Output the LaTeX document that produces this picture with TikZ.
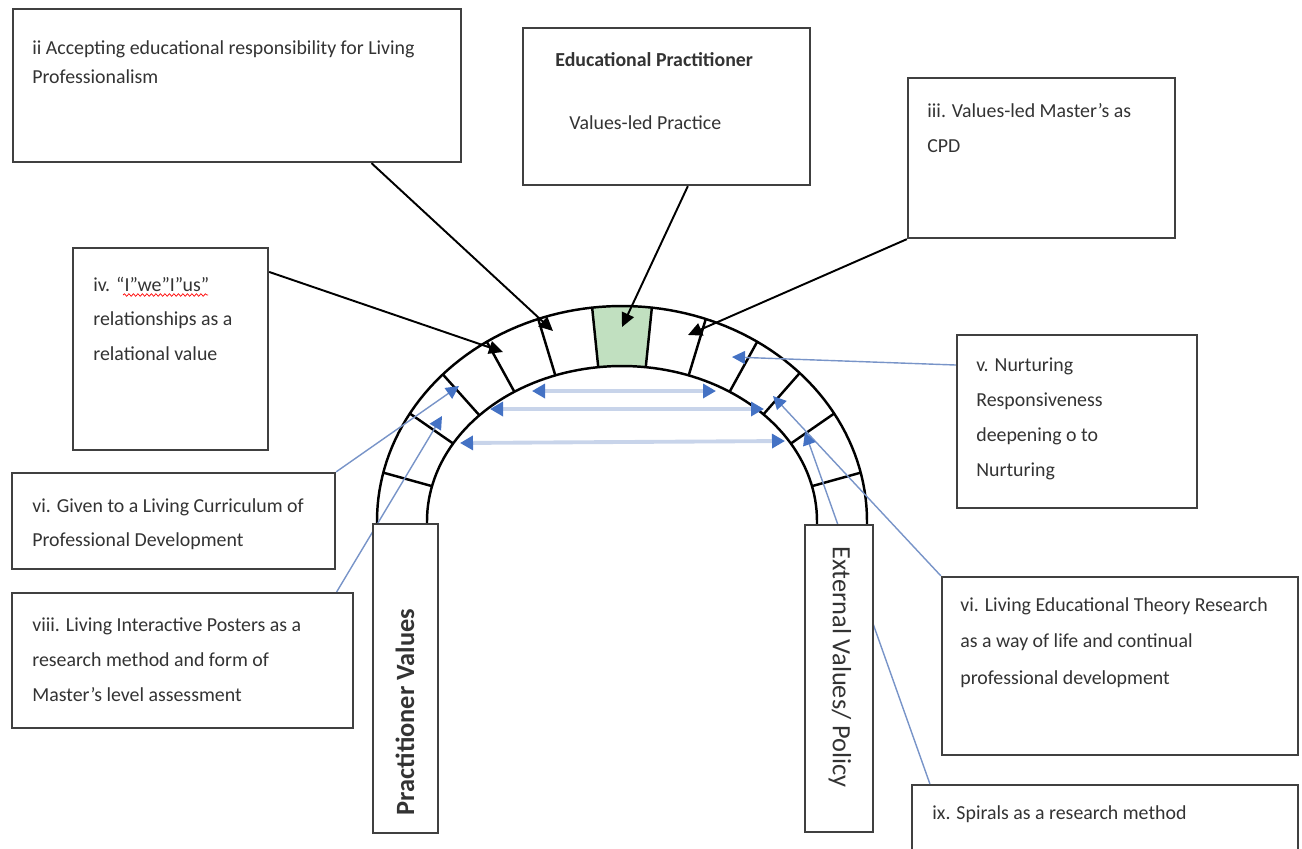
\documentclass[tikz,border=0pt]{standalone}
\usepackage{fontspec}
\setmainfont{Carlito}
\usetikzlibrary{arrows.meta,fit,decorations.pathmorphing}

\definecolor{keygreen}{RGB}{193,224,192}
\definecolor{headblue}{RGB}{68,114,196}
\definecolor{linkblue}{RGB}{120,148,200}
\definecolor{barblue}{RGB}{200,212,234}
\definecolor{boxgray}{RGB}{64,64,64}

\tikzset{
  infobox/.style={draw=boxgray, line width=1.3pt, inner sep=0pt},
  pillar/.style={draw=boxgray, line width=0.8pt, inner sep=0pt},
  txt/.style={anchor=north west, inner sep=0pt, align=left, text=black!80, font=\fontsize{11.3}{20}\selectfont},
  blk/.style={-{Triangle[length=2.8mm,width=2.6mm]}, line width=1.1pt},
  blu/.style={-{Triangle[length=2.6mm,width=2.6mm,color=headblue]}, draw=linkblue, line width=0.8pt},
  pairline/.style={{Triangle[length=2.6mm,width=2.8mm,color=headblue]}-{Triangle[length=2.6mm,width=2.8mm,color=headblue]}, draw=barblue, line width=2.2pt},
}

\begin{document}
\begin{tikzpicture}[x=0.2mm,y=-0.2mm]
    \clip (0,0) rectangle (1302,848);

    \node[infobox, fit={(13,9) (461,162)}] (ii) {};
    \node[infobox, fit={(523,28) (810,185)}] (ep) {};
    \node[infobox, fit={(908,78) (1175,238)}] (iii) {};
    \node[infobox, fit={(73,248) (268,450)}] (iv) {};
    \node[infobox, fit={(957,335) (1197,508)}] (v) {};
    \node[infobox, fit={(12,473) (335,569)}] (vi) {};
    \node[infobox, fit={(12,593) (353,728)}] (viii) {};
    \node[infobox, fit={(942,577) (1298,755)}] (let) {};
    \node[infobox, fit={(912,785) (1298,870)}] (ix) {};

    \node[txt, font=\fontsize{11.3}{16.5}\selectfont] (iitext) at (32,40) {ii Accepting educational responsibility for Living\\Professionalism};
    \node[txt] (eptext) at (555,52) {\textbf{Educational Practitioner}\\[16pt]\hspace{8pt}Values-led Practice};
    \node[txt] (iiitext) at (927,103) {iii. Values-led Master’s as\\CPD};
    \node[txt, font=\fontsize{11.3}{19.5}\selectfont] (ivtext) at (93,277) {iv. “I”we”I”us”\\relationships as a\\relational value};
    \node[txt] (vtext) at (976,357) {v. Nurturing\\Responsiveness\\deepening o to\\Nurturing};
    \node[txt, font=\fontsize{11.3}{19.5}\selectfont] (vitext) at (32,498) {vi. Given to a Living Curriculum of\\Professional Development};
    \node[txt] (viiitext) at (32,617) {viii. Living Interactive Posters as a\\research method and form of\\Master’s level assessment};
    \node[txt, font=\fontsize{11.3}{20.8}\selectfont] (lettext) at (960,597) {vi. Living Educational Theory Research\\as a way of life and continual\\professional development};
    \node[txt] (ixtext) at (932,805) {ix. Spirals as a research method};
    \draw[red, decorate, decoration={snake, amplitude=0.25mm, segment length=0.9mm}] (123,295) -- (208,295);

    \fill[keygreen] plot[domain=83:97, samples=10] ({622+245*cos(\x)},{521-215*sin(\x)})
        -- plot[domain=97:83, samples=10] ({622+195*cos(\x)},{521-155*sin(\x)}) -- cycle;
    \draw[line width=1.4pt] (377,524) -- plot[domain=180:0, samples=90] ({622+245*cos(\x)},{521-215*sin(\x)}) -- (867,524);
    \draw[line width=1.4pt] (427,524) -- plot[domain=180:0, samples=90] ({622+195*cos(\x)},{521-155*sin(\x)}) -- (817,524);
    \foreach \t in {13,30,43.5,56.5,70,83,97,110,123.5,137,150,167}
        \draw[line width=1.4pt] ({622+195*cos(\t)},{521-155*sin(\t)}) -- ({622+245*cos(\t)},{521-215*sin(\t)});

    \coordinate (tii) at (553,331);
    \coordinate (tep) at (622,327);
    \coordinate (tiii) at (688,335);
    \coordinate (tiv) at (503,352);
    \coordinate (tv) at (732,357);
    \coordinate (tvi) at (459,386);
    \coordinate (tviii) at (442,416);
    \coordinate (tlet) at (773,396);
    \coordinate (tix) at (805,432);
    \coordinate (a1) at (532,391);
    \coordinate (a2) at (716,391);
    \coordinate (b1) at (490,409);
    \coordinate (b2) at (764,409);
    \coordinate (c1) at (460,443);
    \coordinate (c2) at (785,441);

    \draw[pairline] (a1) -- (a2);
    \draw[pairline] (b1) -- (b2);
    \draw[pairline] (c1) -- (c2);

    \draw[blk] (ii.-30) -- (tii);
    \draw[blk] (ep.-75) -- (tep);
    \draw[blk] (iii.south west) -- (tiii);
    \draw[blk] (iv.38) -- (tiv);
    \draw[blu] (v.155) -- (tv);
    \draw[blu] (vi.north east) -- (tvi);
    \draw[blu] (viii.24) -- (tviii);
    \draw[blu] (let.north west) -- (tlet);
    \draw[blu] (ix.166) -- (tix);

    \node[pillar, fill=white, fit={(373,524) (438,833)}] (pv) {};
    \node[pillar, fill=white, fit={(805,525) (873,832)}] (ev) {};
    \node[rotate=90, text=black!80, font=\fontsize{15}{18}\bfseries\selectfont] (pvtext) at (405,712) {Practitioner Values};
    \node[rotate=-90, text=black!80, font=\fontsize{15}{18}\selectfont] (evtext) at (840,667) {External Values/ Policy};
\end{tikzpicture}
\end{document}
